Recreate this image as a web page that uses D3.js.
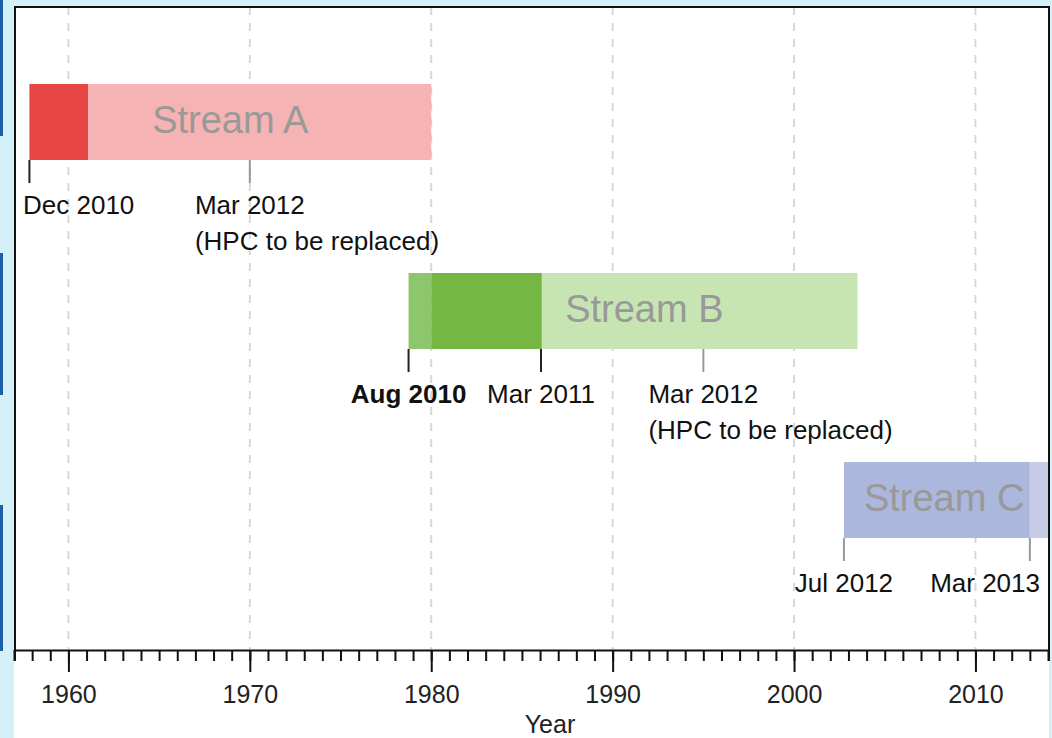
<!DOCTYPE html>
<html>
<head>
<meta charset="utf-8">
<script src="https://cdn.jsdelivr.net/npm/d3@7"></script>
<style>
  body { margin: 0; background: #d3f0f8; }
  svg { display: block; font-family: "Liberation Sans", Arial, sans-serif; }
</style>
</head>
<body>
<script>
// streams (rows)
var streams = ["Stream A", "Stream B", "Stream C"];

// bar segments, in axis units (years)
var segStream = [0, 0, 1, 1, 1, 2, 2];
var segFrom   = [1957.85, 1961.1, 1978.75, 1980.0, 1986.1, 2002.75, 2013.0];
var segTo     = [1961.1, 1980.0, 1980.0, 1986.1, 2003.5, 2013.0, 2014.5];
var segKind   = ["aDark", "aLight", "bMid", "bDark", "bLight", "cMain", "cEnd"];

// where each stream name is centred (between these two values)
var nameFrom = [1957.85, 1980.0, 2002.75];
var nameTo   = [1980.0, 2003.5, 2013.8];

// milestones under the bars
var msStream = [0, 0, 1, 1, 1, 2, 2];
var msYear   = [1957.85, 1970.0, 1978.75, 1986.05, 1995.0, 2002.75, 2013.0];
var msLabel  = ["Dec 2010", "Mar 2012|(HPC to be replaced)", "Aug 2010", "Mar 2011",
                "Mar 2012|(HPC to be replaced)", "Jul 2012", "Mar 2013"];
var msDone   = [true, false, true, true, false, false, false];
var msBold   = [false, false, true, false, false, false, false];

// axis
var xDomain = [1957, 2014];
var majorTicks = [1960, 1970, 1980, 1990, 2000, 2010];
var minorTicks = d3.range(1957, 2015);
var xTitle = "Year";

var colors = {
  aDark: "#e84545", aLight: "#f5b3b3",
  bMid: "#8dc66c", bDark: "#74b843", bLight: "#c7e4b3",
  cMain: "#abb7dc", cEnd: "#c6cbe6"
};

var W = 1052, H = 738;
var plotL = 14, plotR = 1048, plotT = 7, axisY = 650;

var svg = d3.select("body").append("svg")
    .attr("width", W)
    .attr("height", H);

// page background + the white chart panel
svg.append("rect").attr("width", W).attr("height", H).attr("fill", "#d3f0f8");
[[0, 136], [253, 395], [505, 651]].forEach(function(s) {
  svg.append("rect").attr("x", 0).attr("y", s[0]).attr("width", 3)
     .attr("height", s[1] - s[0]).attr("fill", "#1d5fa6");
});
svg.append("rect")
    .attr("x", plotL).attr("y", plotT - 1)
    .attr("width", plotR - plotL + 1).attr("height", H - plotT + 1)
    .attr("fill", "#fff");

var x = d3.scaleLinear().domain(xDomain).range([plotL, plotR]);
var y = d3.scaleBand().domain(d3.range(streams.length))
    .range([84, 538]).paddingInner(0.598).paddingOuter(0);

svg.append("clipPath").attr("id", "plot")
  .append("rect").attr("x", plotL).attr("y", plotT)
  .attr("width", plotR - plotL).attr("height", axisY - plotT);

// dashed grid
svg.append("g").selectAll("line")
    .data(majorTicks)
  .enter().append("line")
    .attr("x1", function(d) { return x(d); })
    .attr("x2", function(d) { return x(d); })
    .attr("y1", plotT).attr("y2", axisY)
    .attr("stroke", "#d6d6d6")
    .attr("stroke-width", 2)
    .attr("stroke-dasharray", "8,8");

// bars
svg.append("g").attr("clip-path", "url(#plot)").selectAll("rect")
    .data(d3.range(segFrom.length))
  .enter().append("rect")
    .attr("x", function(i) { return x(segFrom[i]); })
    .attr("width", function(i) { return x(segTo[i]) - x(segFrom[i]); })
    .attr("y", function(i) { return y(segStream[i]); })
    .attr("height", y.bandwidth())
    .attr("fill", function(i) { return colors[segKind[i]]; });

// stream names
svg.append("g").selectAll("text")
    .data(streams)
  .enter().append("text")
    .attr("x", function(d, i) { return x((nameFrom[i] + nameTo[i]) / 2); })
    .attr("y", function(d, i) { return y(i) + y.bandwidth() / 2; })
    .attr("dy", "0.3em")
    .attr("text-anchor", "middle")
    .attr("font-size", 38)
    .attr("fill", "#999")
    .text(function(d) { return d; });

// milestone ticks + labels
var ms = svg.append("g").selectAll("g")
    .data(d3.range(msYear.length))
  .enter().append("g");

ms.append("line")
    .attr("x1", function(i) { return x(msYear[i]); })
    .attr("x2", function(i) { return x(msYear[i]); })
    .attr("y1", function(i) { return y(msStream[i]) + y.bandwidth(); })
    .attr("y2", function(i) { return y(msStream[i]) + y.bandwidth() + 23; })
    .attr("stroke", function(i) { return msDone[i] ? "#222" : "#999"; })
    .attr("stroke-width", 2);

ms.each(function(i) {
  var lines = msLabel[i].split("|");
  var base = y(msStream[i]) + y.bandwidth() + 54;
  var t = d3.select(this).append("text")
      .attr("font-size", 26)
      .attr("font-weight", msBold[i] ? "bold" : "normal")
      .attr("fill", "#111");
  var first = t.append("tspan").attr("y", base).text(lines[0]);
  var w = first.node().getComputedTextLength();
  // centre on the tick, but keep inside the panel
  var sx = x(msYear[i]) - w / 2;
  sx = Math.max(plotL + 9, Math.min(plotR - 8 - w, sx));
  first.attr("x", sx);
  lines.slice(1).forEach(function(l, k) {
    t.append("tspan").attr("x", sx).attr("y", base + 36 * (k + 1)).text(l);
  });
});

// x axis: minor every year, major every decade
svg.append("g")
    .attr("transform", "translate(0," + axisY + ")")
    .call(d3.axisBottom(x).tickValues(minorTicks).tickSize(11).tickSizeOuter(0).tickFormat(""))
    .call(function(g) {
      g.select(".domain").attr("stroke", "#111").attr("stroke-width", 2);
      g.selectAll(".tick line").attr("stroke", "#111").attr("stroke-width", 2);
    });

svg.append("g")
    .attr("transform", "translate(0," + axisY + ")")
    .call(d3.axisBottom(x).tickValues(majorTicks).tickSize(22).tickSizeOuter(0)
          .tickPadding(13).tickFormat(d3.format("d")))
    .call(function(g) {
      g.select(".domain").remove();
      g.selectAll(".tick line").attr("stroke", "#111").attr("stroke-width", 2);
      g.selectAll(".tick text")
        .attr("font-size", 25)
        .attr("font-family", "Liberation Sans, Arial, sans-serif")
        .attr("fill", "#222");
    });

// axis title
svg.append("text")
    .attr("x", 550)
    .attr("y", 733)
    .attr("text-anchor", "middle")
    .attr("font-size", 25)
    .attr("fill", "#222")
    .text(xTitle);

// panel frame (left, top, right)
svg.append("path")
    .attr("d", "M" + (plotL + 1) + "," + (axisY + 11) + "V" + plotT + "H" + (plotR + 1) + "V" + (axisY + 11))
    .attr("fill", "none")
    .attr("stroke", "#111")
    .attr("stroke-width", 2);
</script>
</body>
</html>
